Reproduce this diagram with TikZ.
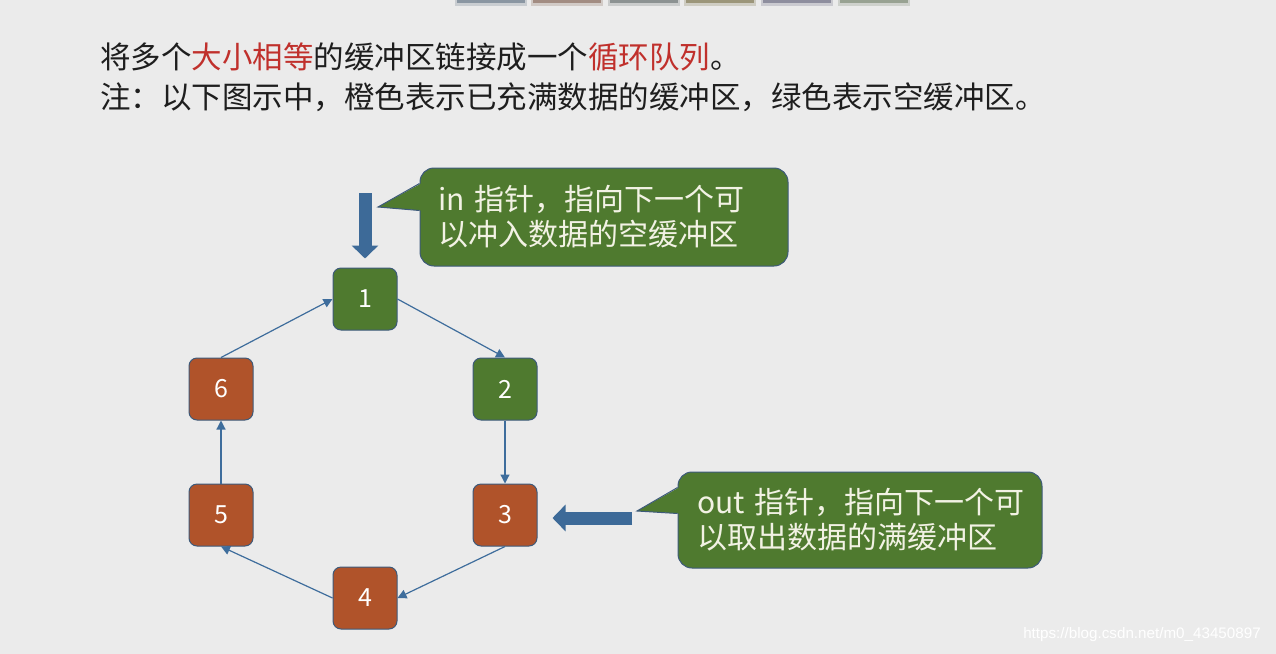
\documentclass[tikz,border=0pt]{standalone}
\usepackage{xcolor}
\usepackage{fontspec}
\setmainfont{Noto Sans CJK SC}
\newfontfamily\urlfont{Liberation Sans}
\usetikzlibrary{arrows.meta, positioning, calc}

\definecolor{bggray}{HTML}{EBEBEB}
\definecolor{fullorange}{HTML}{B0532A}
\definecolor{freegreen}{HTML}{4F7A2F}
\definecolor{linkblue}{HTML}{3E6D9C}
\definecolor{pointerblue}{HTML}{3D6A98}
\definecolor{keyred}{HTML}{C0302C}
\definecolor{textgray}{HTML}{1E1E1E}
\definecolor{boxborder}{HTML}{3D5A7A}
\definecolor{calltext}{HTML}{F2F2E4}

\begin{document}
\begin{tikzpicture}[x=0.5pt, y=-0.5pt,
        buffer/.style={rectangle, draw=boxborder, line width=0.5pt, rounded corners=4pt, minimum width=32pt, minimum height=31pt, text=white, font=\fontsize{12.5pt}{14pt}\selectfont},
        fullbuf/.style={buffer, fill=fullorange},
        freebuf/.style={buffer, fill=freegreen},
        callbox/.style={rectangle, draw=boxborder, line width=0.5pt, fill=freegreen, rounded corners=7pt, align=left, text=calltext, inner xsep=9pt, font=\fontsize{15pt}{17.5pt}\selectfont},
        headline/.style={anchor=west, inner sep=0pt, text=textgray, font=\fontsize{15.25pt}{18pt}\selectfont},
        link/.style={draw=linkblue, line width=0.6pt, -{Triangle[width=4.5pt,length=4.5pt]}},
        pointer/.style={draw=pointerblue, line width=6.5pt, -{Triangle[width=13pt,length=6.5pt]}}]

        \useasboundingbox[fill=bggray] (0,0) rectangle (1276,654);

        % Tabs cut off at the top edge
        \foreach \x/\c in {457/8A96A2, 533/A28C82, 610/8C9292, 686/9C967A, 763/8E8E9E, 840/98A292} {
            \definecolor{tabc}{HTML}{\c}
            \fill[tabc!35!bggray] (\x-2,0) rectangle (\x+70,6);
            \fill[tabc] (\x,0) rectangle (\x+68,3);
        }

        % Heading
        \node [headline] (line1) at (100,57) {将多个\textcolor{keyred}{大小相等}的缓冲区链接成一个\textcolor{keyred}{循环队列}。};
        \node [headline] (line2) at (100,97) {注：以下图示中，橙色表示已充满数据的缓冲区，绿色表示空缓冲区。};

        % Buffers
        \node [freebuf] (buf1) at (365,299) {1};
        \node [freebuf] (buf2) at (505,389) {2};
        \node [fullbuf] (buf3) at (505,515) {3};
        \node [fullbuf] (buf4) at (365,598) {4};
        \node [fullbuf] (buf5) at (221,515) {5};
        \node [fullbuf] (buf6) at (221,389) {6};

        % Ring
        \path [link] (buf1.east) -- (buf2.north);
        \path [link] (buf2) -- (buf3);
        \path [link] (buf3.south) -- (buf4.east);
        \path [link] (buf4.west) -- (buf5.south);
        \path [link] (buf5) -- (buf6);
        \path [link] (buf6.north) -- (buf1.west);

        % Callouts
        \node [callbox, text width=166pt, minimum height=49pt] (incall) at (604,217) {in~指针，指向下一个可\\以冲入数据的空缓冲区};
        \node [callbox, text width=163pt, minimum height=48pt, inner xsep=9.5pt] (outcall) at (860,520) {out~指针，指向下一个可\\以取出数据的满缓冲区};

        \coordinate (intip) at (378,207);
        \fill [freegreen] (intip) -- ($(incall.north west)+(1.5,16)$) -- ($(incall.north west)+(1.5,43)$) -- cycle;
        \draw [boxborder, line width=0.5pt] ($(incall.north west)+(0,16)$) -- (intip) -- ($(incall.north west)+(0,43)$);

        \coordinate (outtip) at (637,511);
        \fill [freegreen] (outtip) -- ($(outcall.north west)+(1.5,16)$) -- ($(outcall.north west)+(1.5,42)$) -- cycle;
        \draw [boxborder, line width=0.5pt] ($(outcall.north west)+(0,16)$) -- (outtip) -- ($(outcall.north west)+(0,42)$);

        % Pointers
        \coordinate (inshaft) at (365,193);
        \coordinate (outshaft) at (632,518);
        \draw [pointer, shorten >=4.5pt] (inshaft) -- (inshaft |- buf1.north);
        \draw [pointer, shorten >=7.5pt] (outshaft) -- (outshaft -| buf3.east);

        % Watermark
        \node [text=white, font=\urlfont\fontsize{7.6pt}{9pt}\selectfont] (mark) at (1142,635) {https://blog.csdn.net/m0\_43450897};

    \end{tikzpicture}
\end{document}
